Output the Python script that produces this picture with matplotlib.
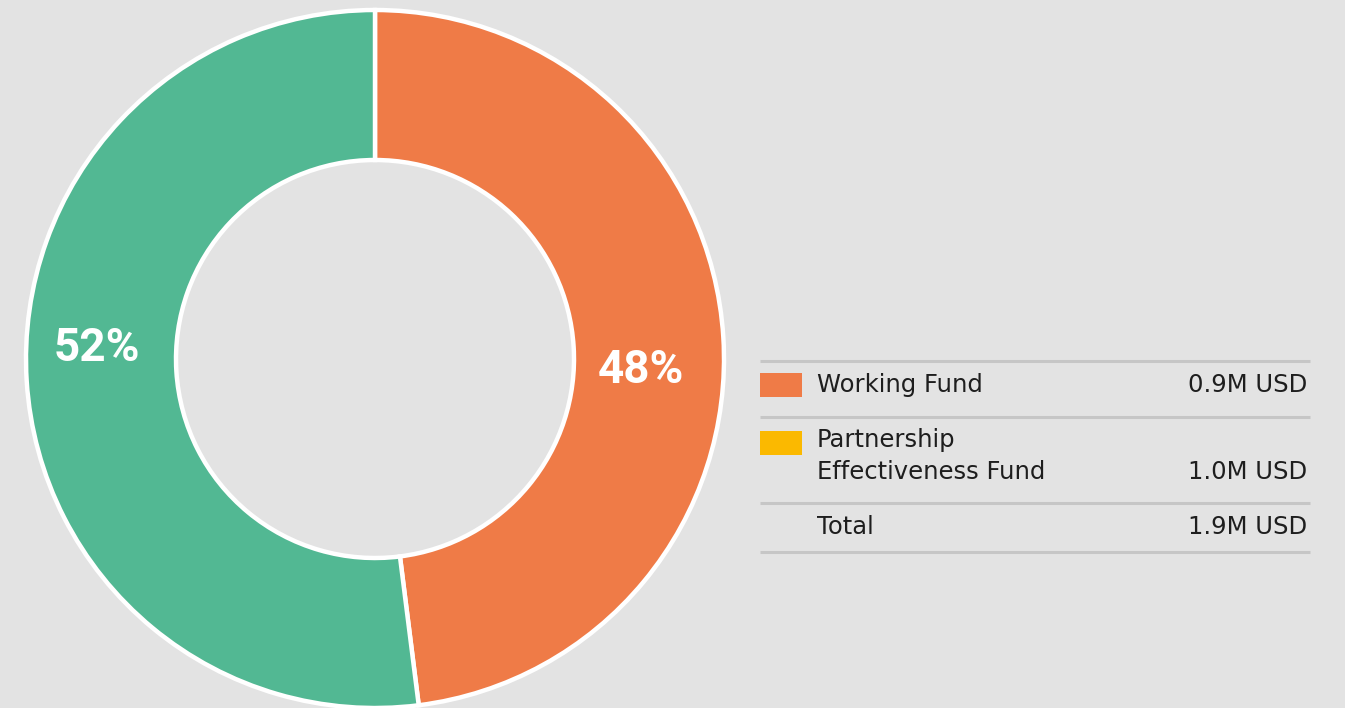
import numpy as np
import matplotlib.pyplot as plt
from matplotlib import font_manager as fm

funds = ['Working Fund', 'Partnership\nEffectiveness Fund']
shares = [48, 52]
amounts = ['0.9M USD', '1.0M USD']
total_label = 'Total'
total_amount = '1.9M USD'
ring_colors = ['#ef7b47', '#52b893']
legend_colors = ['#ef7b47', '#fbb900']


def font_file(family, weight, size):
    # pick a plain (not condensed, not italic) face so runs stay consistent
    w = fm.weight_dict.get(weight, weight)
    cands = []
    for f in fm.fontManager.ttflist:
        fw = fm.weight_dict.get(f.weight, f.weight)
        if (f.name == family and f.style == 'normal' and f.stretch in ('normal', 500)
                and 'ondensed' not in f.fname and 'Variable' not in f.fname
                and '[' not in f.fname):
            cands.append((abs(int(fw) - int(w)), f.fname))
    if not cands:
        return fm.FontProperties(family=family, weight=weight, size=size)
    cands.sort()
    return fm.FontProperties(fname=cands[0][1], size=size)


W, H = 1345, 708
fig = plt.figure(figsize=(W / 100, H / 100), dpi=100)
fig.patch.set_facecolor('#e3e3e3')
ax = fig.add_axes([0, 0, 1, 1])
ax.set_xlim(0, W)
ax.set_ylim(H, 0)
ax.axis('off')

# donut in its own axes so pie keeps its orientation
R = 349
cx, cy = 375, 359
dax = fig.add_axes([(cx - R) / W, (H - cy - R) / H, 2 * R / W, 2 * R / H])
dax.axis('off')
pct_font = font_file('Roboto', 'bold', 33)
wedges, texts, pcts = dax.pie(
    shares, colors=ring_colors, startangle=90, counterclock=False,
    radius=1.0, autopct=lambda p: f'{p:.0f}%', pctdistance=0.78,
    wedgeprops=dict(width=150 / R, edgecolor='white', linewidth=3.2),
    textprops=dict(color='white', fontproperties=pct_font))
# labels sit a little further round (clockwise) than the wedge middles
rot = np.deg2rad(-6)
for t in pcts:
    x, y = t.get_position()
    t.set_position((x * np.cos(rot) - y * np.sin(rot) - 0.017,
                    x * np.sin(rot) + y * np.cos(rot)))
dax.set_xlim(-1.0, 1.0)
dax.set_ylim(-1.0, 1.0)
dax.set_aspect('equal')

# legend table
x0, x1 = 760, 1310
for y in [361, 417, 503, 552]:
    ax.plot([x0, x1], [y, y], color='#c6c6c6', lw=2.2, solid_capstyle='butt')

lab_font = font_file('DejaVu Sans', 'normal', 17.5)
font = dict(fontproperties=lab_font, color='#1e1e1e')
rows = [(385, 385), (440, 472)]
for i, (label, amt) in enumerate(zip(funds, amounts)):
    ty, vy = rows[i]
    sw_y = [373, 431][i]
    ax.add_patch(plt.Rectangle((x0, sw_y), 42, 24, color=legend_colors[i], lw=0))
    for j, ln in enumerate(label.split('\n')):
        ax.text(817, ty + 32 * j, ln, va='center', ha='left', **font)
    ax.text(1307, vy, amt, va='center', ha='right', **font)
ax.text(817, 527, total_label, va='center', ha='left', **font)
ax.text(1307, 527, total_amount, va='center', ha='right', **font)

fig.savefig('out.png', dpi=100, facecolor=fig.get_facecolor())
